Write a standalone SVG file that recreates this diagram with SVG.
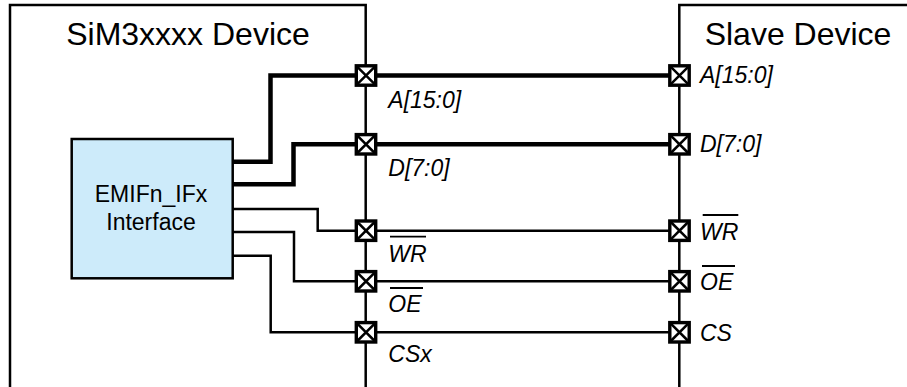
<svg xmlns="http://www.w3.org/2000/svg" width="907" height="387" viewBox="0 0 907 387">
<style>
.dev{fill:#fff;stroke:#000;stroke-width:2.5}
.title{font-family:"Liberation Sans",Arial,sans-serif;font-size:32px;fill:#000}
.ifc{fill:#cdebfa;stroke:#000;stroke-width:2.5}
.ifct{font-family:"Liberation Sans",Arial,sans-serif;font-size:23px;fill:#000;text-anchor:middle}
.lbl{font-family:"Liberation Sans",Arial,sans-serif;font-size:23px;font-style:italic;fill:#000}
.bus{fill:none;stroke:#000;stroke-width:4.5;stroke-linejoin:miter}
.sig{fill:none;stroke:#000;stroke-width:2.5;stroke-linejoin:miter}
.ovl{stroke:#000;stroke-width:1.8}
</style>
<defs>
<g id="pinshape">
<rect x="-9.7" y="-9.7" width="19.4" height="19.4" fill="#fff" stroke="#000" stroke-width="3.4"/>
<path d="M-9.7,-9.7 L9.7,9.7 M9.7,-9.7 L-9.7,9.7" fill="none" stroke="#000" stroke-width="2.5"/>
</g>
</defs>
<g id="sim3-device">
<path class="dev" d="M10,390 V5 H365.7 V390"/>
<text class="title" x="188" y="45" text-anchor="middle">SiM3xxxx Device</text>
</g>
<g id="slave-device">
<path class="dev" d="M679.3,390 V5 H910"/>
<text class="title" x="798" y="45" text-anchor="middle">Slave Device</text>
</g>
<g id="emif-interface">
<rect class="ifc" x="71.7" y="139" width="161" height="139.3"/>
<text class="ifct" x="151" y="201.7">EMIFn_IFx</text>
<text class="ifct" x="151" y="230">Interface</text>
</g>
<g id="connectors">
<path class="bus" d="M232.7,161.7 H270.5 V75.5 H679.3"/>
<path class="bus" d="M232.7,184.3 H293.5 V144.3 H679.3"/>
<path class="sig" d="M232.7,209 H317.7 V230.7 H679.3"/>
<path class="sig" d="M232.7,232 H294 V281.3 H679.3"/>
<path class="sig" d="M232.7,255.7 H270.7 V332.3 H679.3"/>
</g>
<g id="pins-left">
<use href="#pinshape" x="366" y="75.5"/>
<use href="#pinshape" x="366" y="144.3"/>
<use href="#pinshape" x="366" y="230.7"/>
<use href="#pinshape" x="366" y="281.3"/>
<use href="#pinshape" x="366" y="332.3"/>
</g>
<g id="pins-right">
<use href="#pinshape" x="679.5" y="75.5"/>
<use href="#pinshape" x="679.5" y="144.3"/>
<use href="#pinshape" x="679.5" y="230.7"/>
<use href="#pinshape" x="679.5" y="281.3"/>
<use href="#pinshape" x="679.5" y="332.3"/>
</g>
<g id="labels-left">
<text class="lbl" x="388.3" y="108.3">A[15:0]</text>
<text class="lbl" x="388.3" y="175.5">D[7:0]</text>
<text class="lbl" x="388.3" y="261.7">WR</text>
<line class="ovl" x1="390" y1="236.7" x2="426" y2="236.7"/>
<text class="lbl" x="388.3" y="311.5">OE</text>
<line class="ovl" x1="390" y1="288" x2="423" y2="288"/>
<text class="lbl" x="388.3" y="362.3">CSx</text>
</g>
<g id="labels-right">
<text class="lbl" x="700" y="83">A[15:0]</text>
<text class="lbl" x="700" y="152">D[7:0]</text>
<text class="lbl" x="700" y="240">WR</text>
<line class="ovl" x1="702.7" y1="215" x2="738.3" y2="215"/>
<text class="lbl" x="700" y="289.5">OE</text>
<line class="ovl" x1="702" y1="266" x2="735" y2="266"/>
<text class="lbl" x="700" y="340.5">CS</text>
</g>
</svg>
